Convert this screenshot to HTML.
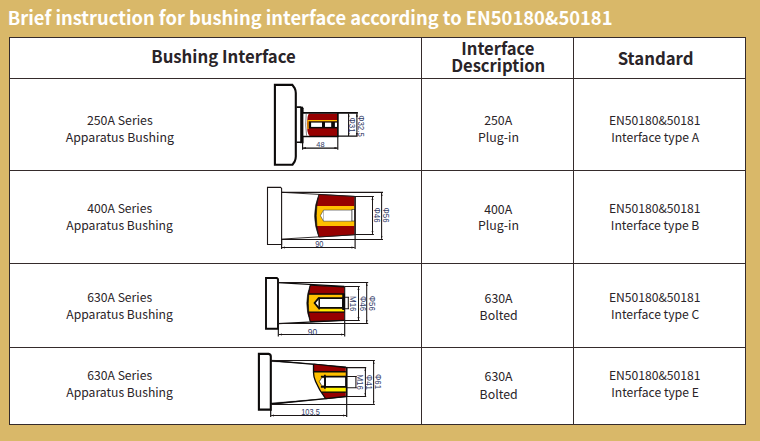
<!DOCTYPE html>
<html><head><meta charset="utf-8"><title>Bushing interface</title>
<style>
html,body{margin:0;padding:0}
body{width:760px;height:441px;background:#d9b869;position:relative;overflow:hidden;font-family:"Noto Sans CJK SC","Liberation Sans",sans-serif;color:#2a2428}
#title{position:absolute;left:7.8px;top:4px;height:26px;line-height:26px;font-size:18.33px;font-weight:700;color:#fff;white-space:nowrap;letter-spacing:0}
#tbl{position:absolute;left:9px;top:37px;width:735px;height:386px;background:#fff;border:1px solid #352b2b}
.h{position:absolute;background:#352b2b;height:1px;left:9px;width:737px}
.v{position:absolute;background:#352b2b;width:1px;top:37px;height:388px}
.t{position:absolute;white-space:nowrap;transform:translateX(-50%);height:20px;line-height:20px;font-size:12.35px;text-align:center}
.th{font-weight:700;font-size:16.75px}
svg{position:absolute;left:0;top:0}
svg text{font-family:"Liberation Sans",sans-serif;fill:#303a66}
</style></head><body>
<div id="title">Brief instruction for bushing interface according to EN50180&amp;50181</div>
<div id="tbl"></div>
<div class="h" style="top:78px"></div>
<div class="h" style="top:170px"></div>
<div class="h" style="top:263px"></div>
<div class="h" style="top:347px"></div>
<div class="v" style="left:421px"></div>
<div class="v" style="left:573px"></div>

<div class="t th" style="left:223.5px;top:46.3px">Bushing Interface</div>
<div class="t th" style="left:497.9px;top:37.8px;font-size:16.62px">Interface</div>
<div class="t th" style="left:498.2px;top:54.8px;font-size:16.62px">Description</div>
<div class="t th" style="left:655.6px;top:47.9px">Standard</div>

<div class="t" style="left:119.8px;top:109.5px">250A Series</div>
<div class="t" style="left:119.8px;top:126.9px">Apparatus Bushing</div>
<div class="t" style="left:498.2px;top:109.5px">250A</div>
<div class="t" style="left:498.5px;top:126.9px">Plug-in</div>
<div class="t" style="left:654.7px;top:109.75px;font-size:12.15px">EN50180&amp;50181</div>
<div class="t" style="left:655.1px;top:126.6px;font-size:12.15px">Interface type A</div>

<div class="t" style="left:119.7px;top:197.7px;font-size:12.17px">400A Series</div>
<div class="t" style="left:119.6px;top:215.1px;font-size:12.17px">Apparatus Bushing</div>
<div class="t" style="left:498.2px;top:199.0px">400A</div>
<div class="t" style="left:498.5px;top:215.3px">Plug-in</div>
<div class="t" style="left:654.7px;top:198.2px;font-size:12.15px">EN50180&amp;50181</div>
<div class="t" style="left:655.1px;top:214.8px;font-size:12.15px">Interface type B</div>

<div class="t" style="left:119.7px;top:286.5px;font-size:12.17px">630A Series</div>
<div class="t" style="left:119.6px;top:304.0px;font-size:12.17px">Apparatus Bushing</div>
<div class="t" style="left:498.6px;top:287.5px">630A</div>
<div class="t" style="left:498.6px;top:305.2px">Bolted</div>
<div class="t" style="left:654.7px;top:287.3px;font-size:12.15px">EN50180&amp;50181</div>
<div class="t" style="left:655.1px;top:303.6px;font-size:12.15px">Interface type C</div>

<div class="t" style="left:119.7px;top:364.5px;font-size:12.17px">630A Series</div>
<div class="t" style="left:119.6px;top:382.0px;font-size:12.17px">Apparatus Bushing</div>
<div class="t" style="left:498.6px;top:366.45px">630A</div>
<div class="t" style="left:498.6px;top:383.6px">Bolted</div>
<div class="t" style="left:654.7px;top:365.1px;font-size:12.15px">EN50180&amp;50181</div>
<div class="t" style="left:655.1px;top:381.6px;font-size:12.15px">Interface type E</div>

<svg id="dg" width="760" height="441" viewBox="0 0 760 441">
<defs><marker id="ar" viewBox="0 0 6 4" refX="6" refY="2" markerWidth="3" markerHeight="2" orient="auto-start-reverse"><path d="M0 0L6 2L0 4Z" fill="#1c1616" stroke="none"/></marker></defs>
<!-- diagram 1 : 250A -->
<g id="d1" fill="none" stroke="#0c0a0a">
<path d="M274.9 84.9H292.3L294.6 88Q295.8 90.5 295.8 93V156.6Q295.8 159.2 294.6 161.7L292.5 164.7H274.9Z" fill="#fff" stroke-width="2.1"/>
<path d="M296.6 107.1H301M296.6 142.2H301" stroke-width="1.6"/>
<path d="M300.2 108.2L301.3 106.4H302.5L303.6 108.2V143.3H300.2Z" fill="#0c0a0a" stroke="none"/>
<rect x="303.6" y="113" width="34.4" height="23.4" fill="#fff" stroke="none"/>
<path d="M306.2 114Q304.9 125 306.6 135.6" stroke="#555" stroke-width="0.7"/>
<path d="M309.2 113.6H337.5V136H309.6Q308 134.6 307.4 131Q306.3 124 307.6 117Q308 114.6 309.2 113.6Z" fill="#960000" stroke="none"/>
<rect x="308.6" y="121.2" width="29" height="7.2" fill="#0c0a0a" stroke="none"/>
<path d="M308 129V120.7H337.5" stroke="#ffc000" stroke-width="1.2"/>
<rect x="311.1" y="122.6" width="10.9" height="4.3" fill="#fff" stroke="none"/>
<rect x="325" y="122.6" width="6.2" height="4.3" fill="#fff" stroke="none"/>
<rect x="334.9" y="122.6" width="2.4" height="4.3" fill="#fff" stroke="none"/>
<path d="M303 112.9H357.9" stroke-width="1.9"/>
<path d="M303 136.4H338.4" stroke-width="1.5"/>
<path d="M337.8 113V149.8" stroke-width="1.1"/>
<path d="M337.8 113V136.4" stroke-width="1.5"/>
<g stroke="#0c0a0a" stroke-width="1.1">
<path d="M338 136.15H357.6M302.6 143V149.8"/>
<path d="M348.6 113.6L348.6 136" stroke-width="1.05" marker-start="url(#ar)" marker-end="url(#ar)"/>
<path d="M356.9 113.6L356.9 136" stroke-width="1.05" marker-start="url(#ar)" marker-end="url(#ar)"/>
<path d="M302.8 148.1L337.6 148.1" stroke-width="1.05" marker-start="url(#ar)" marker-end="url(#ar)"/>
</g>
</g>
<g font-size="7.9">
<text transform="translate(320.4 147.3) scale(1 1.0)" text-anchor="middle" font-size="7.4">48</text>
<text transform="translate(349.4 125) rotate(90) scale(1 1.2)" text-anchor="middle">Φ31</text>
<text transform="translate(358.3 126) rotate(90) scale(1 1.2)" text-anchor="middle">Φ32.5</text>
</g>
<!-- diagram 2 : 400A -->
<g id="d2" fill="none" stroke="#1c1616">
<path d="M267.5 187.4H280.6L281.6 188.4V244.5H267.5Z" fill="#fff" stroke-width="1.1"/>
<path d="M281.6 192.3L354.8 196.4M281.6 239.1L354.8 234.7" stroke-width="0.9"/>
<path d="M318.9 194.5Q311.6 215.4 318.9 237L354.6 234.7V196.5Z" fill="#960000" stroke="none"/>
<path d="M316.2 206.1H354.6V226H316.2Q314 216 316.2 206.1Z" fill="#ffc000" stroke="none"/>
<path d="M323.5 210.1H352V221.2H323.5L320.4 215.7Z" fill="#fff" stroke="#222" stroke-width="0.5"/>
<path d="M323.5 210.1V221.2" stroke="#555" stroke-width="0.4"/>
<rect x="352" y="209.4" width="2.7" height="11.6" fill="#fff" stroke="#222" stroke-width="0.6"/>
<path d="M318.9 194.5Q310.4 215.6 318.9 237Q313.6 215.6 318.9 194.5Z" fill="#0c0a0a" stroke-width="0.7"/>
<path d="M318.9 194.5L354.8 196.5M354.8 234.7L318.9 237" stroke-width="0.9"/>
<path d="M355.1 196V234.9" stroke-width="1.6"/>
<path d="M355.1 234V248.9M281.6 239V248.9" stroke-width="1.15"/>
<g stroke-width="1.05">
<path d="M281.6 192.35H383M281.6 239.4H383"/>
<path d="M354.8 196.4H373.9M354.8 234.4H373.9"/>
<path d="M381.6 192.8L381.6 238.7" stroke-width="1.05" marker-start="url(#ar)" marker-end="url(#ar)"/>
<path d="M372.5 196.9L372.5 233.9" stroke-width="1.05" marker-start="url(#ar)" marker-end="url(#ar)"/>
<path d="M282.1 247.5L354.6 247.5" stroke-width="1.05" marker-start="url(#ar)" marker-end="url(#ar)"/>
</g>
</g>
<g font-size="7.9">
<text transform="translate(319.3 246.7) scale(1 1.2)" text-anchor="middle" font-size="7.4">90</text>
<text transform="translate(373.5 215) rotate(90) scale(1 1.25)" text-anchor="middle">Φ46</text>
<text transform="translate(382.7 215) rotate(90) scale(1 1.25)" text-anchor="middle">Φ56</text>
</g>
<!-- diagram 3 : 630A C -->
<g id="d3" fill="none" stroke="#0c0a0a">
<path d="M266 278H276.8L278 279.2V328.7H266Z" fill="#fff" stroke-width="1.9"/>
<path d="M278 282.7L344.3 286.4M278 323.7L344.3 320.4" stroke-width="1.3"/>
<path d="M310.2 285.2Q304.2 303.4 310.2 321.6L344.3 320.2V286.9Z" fill="#960000" stroke="none"/>
<path d="M308.3 294.3H344.6V311.9H308.3Q306.6 303.5 308.3 294.3Z" fill="#ffc000" stroke="none"/>
<path d="M319.5 309.4H343.5V311.2H319.5Z" fill="#fff200" stroke="none"/>
<path d="M308.4 293.9H344.6" stroke-width="1.5"/>
<path d="M308.4 312.2H344.6" stroke-width="1.2"/>
<path d="M318.6 298.1H343V307.8H318.6L314.6 303Z" fill="#fff" stroke-width="1.8" stroke-linejoin="miter"/>
<path d="M319.2 297.4V309.6" stroke-width="1.5"/>
<path d="M343.6 293.8V310" stroke-width="2.7"/>
<path d="M310.2 285.2L344.3 286.9M344.3 320.2L310.2 321.6" stroke-width="1.1"/>
<path d="M310.2 285.2Q303.4 303.4 310.2 321.6Q306.3 303.4 310.2 285.2Z" fill="#0c0a0a" stroke-width="0.7"/>
<path d="M344.7 286.4V336.6M278.3 328.7V336.6" stroke-width="1.1"/>
<g stroke="#1c1616" stroke-width="1.05">
<path d="M278 282.45H368.2M278 323.5H368.2"/>
<path d="M344.3 286.4H359.8M344.3 320.5H359.8"/>
<path d="M345 297.3H349M345 308.8H349M348.3 297.3V308.8"/>
<path d="M366.7 282.9L366.7 322.9" stroke-width="1.05" marker-start="url(#ar)" marker-end="url(#ar)"/>
<path d="M358.5 286.9L358.5 320" stroke-width="1.05" marker-start="url(#ar)" marker-end="url(#ar)"/>
<path d="M278.8 334.5L344.2 334.5" stroke-width="1.05" marker-start="url(#ar)" marker-end="url(#ar)"/>
</g>
</g>
<g font-size="7.9">
<text transform="translate(312.5 334.9) scale(1 1.06)" text-anchor="middle" font-size="8.4">90</text>
<text transform="translate(349.8 303.8) rotate(90) scale(1 1.25)" text-anchor="middle">M16</text>
<text transform="translate(359.9 303.6) rotate(90) scale(1 1.25)" text-anchor="middle">Φ46</text>
<text transform="translate(369.3 303.3) rotate(90) scale(1 1.25)" text-anchor="middle">Φ56</text>
</g>
<!-- diagram 4 : 630A E -->
<g id="d4" fill="none" stroke="#0c0a0a">
<path d="M258.9 353.9H268.6Q270.8 354.2 270.8 356.6V409.6H258.9Z" fill="#fff" stroke-width="2.1"/>
<path d="M270.8 360.6L346 367.2M270.8 404.2L346 396.6" stroke-width="1.3"/>
<path d="M270.8 360L313.5 364L270.8 361.4ZM270.8 404.4L326 398.6L270.8 403Z" fill="#0c0a0a" stroke-width="0.3"/>
<path d="M313.5 364L345.8 367.6V396.4L325.6 398.6Q319 390 315.6 381.5Q313.5 376.5 313.5 372.5Z" fill="#960000" stroke="none"/>
<path d="M313.5 371.8H345.8V392.4H321.8Q318.2 387.4 315.6 381.5Q313.5 376.5 313.5 371.8Z" fill="#ffc000" stroke="none"/>
<path d="M325.8 387.4H345.8V391.6H325.8Z" fill="#fff200" stroke="none"/>
<path d="M313.5 371.7H345.8" stroke-width="1.5"/>
<path d="M321.6 392.2H345.8" stroke-width="1.4"/>
<path d="M325 376.55H346V386.85H325Z" fill="#fff" stroke-width="1.7"/>
<path d="M325 377.6H321.8L319.3 381.6L321.8 385.8H325Z" fill="#fff" stroke-width="0.6"/>
<path d="M320.9 376.55H325M320.9 386.85H325" stroke-width="1.7"/>
<path d="M324.9 374.7V388.8" stroke-width="1.7"/>
<path d="M313.5 364L345.8 367.6M345.8 396.4L325.6 398.6" stroke-width="1.1"/>
<path d="M313.5 364V372.5Q313.5 376.5 315.6 381.5Q319 390 325.6 398.6" stroke-width="1.3"/>
<path d="M346.7 366.9V397" stroke-width="1.7"/>
<path d="M346.7 396V416.9M270.7 409.6V416.9" stroke-width="1.15"/>
<g stroke="#1c1616" stroke-width="1.05">
<path d="M270.8 360.4H374.9M270.8 404.4H374.9"/>
<path d="M346.7 367.6H366.2M346.7 396.5H366.2"/>
<path d="M346.7 376.5H356.8M346.7 387.7H356.8M355.9 376.5V387.7"/>
<path d="M373.6 360.8L373.6 403.7" stroke-width="1.05" marker-start="url(#ar)" marker-end="url(#ar)"/>
<path d="M365.4 368.1L365.4 396" stroke-width="1.05" marker-start="url(#ar)" marker-end="url(#ar)"/>
<path d="M271.2 415.5L346.2 415.5" stroke-width="1.05" marker-start="url(#ar)" marker-end="url(#ar)"/>
</g>
</g>
<g font-size="7.9">
<text transform="translate(310.5 415) scale(1 1.2)" text-anchor="middle" font-size="7.4">103.5</text>
<text transform="translate(357.3 382.2) rotate(90) scale(1 1.25)" text-anchor="middle">M16</text>
<text transform="translate(366.4 382.4) rotate(90) scale(1 1.25)" text-anchor="middle">Φ41</text>
<text transform="translate(375.1 381.6) rotate(90) scale(1 1.25)" text-anchor="middle">Φ61</text>
</g>
</svg>
</body></html>
